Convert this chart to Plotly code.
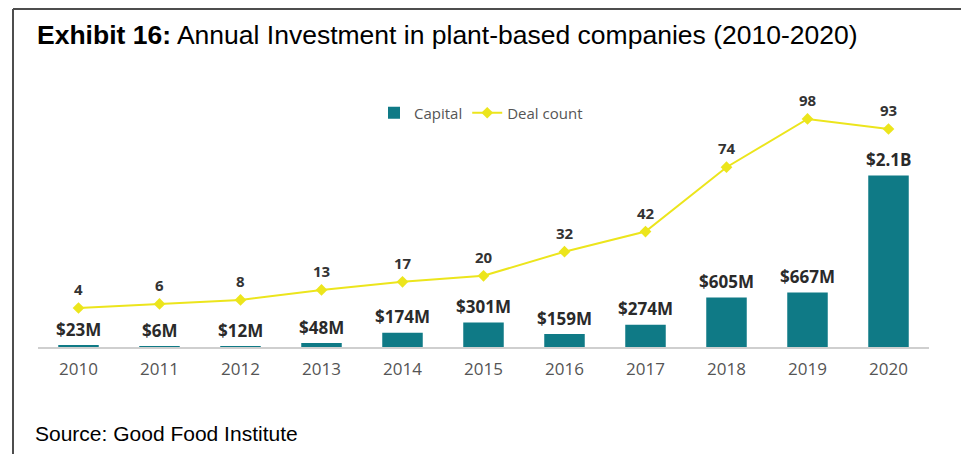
import plotly.graph_objects as go

# Annual plant-based investment data
years = ["2010", "2011", "2012", "2013", "2014", "2015", "2016", "2017", "2018", "2019", "2020"]
capital_musd = [23, 6, 12, 48, 174, 301, 159, 274, 605, 667, 2100]
capital_labels = ["$23M", "$6M", "$12M", "$48M", "$174M", "$301M", "$159M", "$274M", "$605M", "$667M", "$2.1B"]
deal_count = [4, 6, 8, 13, 17, 20, 32, 42, 74, 98, 93]

TEAL = "#0f7a86"
YELLOW = "#ece51c"
W, H = 961, 454
ML, MR, MT, MB = 38, 32, 90, 107
PW, PH = W - ML - MR, H - MT - MB


def px_x(px):
    return (px - ML) / PW


def px_y(py):
    return (H - MB - py) / PH


fig = go.Figure()

fig.add_trace(go.Bar(
    x=years, y=capital_musd, name="Capital",
    marker=dict(color=TEAL, line=dict(width=0)),
    width=0.5, yaxis="y",
))

fig.add_trace(go.Scatter(
    x=years, y=deal_count, name="Deal count", yaxis="y2",
    mode="lines+markers",
    line=dict(color=YELLOW, width=2),
    marker=dict(symbol="diamond", size=9, color=YELLOW),
))

annotations = []
# value labels above the bars (category index positions on the x axis)
for i, (v, lab) in enumerate(zip(capital_musd, capital_labels)):
    annotations.append(dict(
        x=i, y=v, xref="x", yref="y", text=lab, showarrow=False,
        yshift=16, yanchor="middle",
        font=dict(family="Open Sans", size=17, color="#2a2a2a", weight="bold"),
    ))
# deal count labels above the line markers
for i, c in enumerate(deal_count):
    annotations.append(dict(
        x=i, y=c, xref="x", yref="y2", text=str(c), showarrow=False,
        yshift=19, yanchor="middle",
        font=dict(family="Open Sans", size=15, color="#333333", weight="bold"),
    ))

# heading and source note
annotations.append(dict(
    x=px_x(35), y=px_y(35), xref="paper", yref="paper", xanchor="left", yanchor="middle",
    text="<b>Exhibit 16:</b> Annual Investment in plant-based companies (2010-2020)",
    showarrow=False, font=dict(family="Liberation Sans, Arial", size=26.5, color="#000000"),
))
annotations.append(dict(
    x=px_x(33), y=px_y(433), xref="paper", yref="paper", xanchor="left", yanchor="middle",
    text="Source: Good Food Institute",
    showarrow=False, font=dict(family="Liberation Sans, Arial", size=21, color="#000000"),
))

# frame lines along the top and left edges
shapes = [
    dict(type="line", xref="paper", yref="paper", x0=px_x(13), x1=px_x(961),
         y0=px_y(9), y1=px_y(9), line=dict(color="#4d4d4d", width=2)),
    dict(type="line", xref="paper", yref="paper", x0=px_x(13), x1=px_x(13),
         y0=px_y(9), y1=px_y(454), line=dict(color="#4d4d4d", width=2)),
]

fig.update_layout(
    width=W, height=H,
    margin=dict(l=ML, r=MR, t=MT, b=MB),
    paper_bgcolor="white", plot_bgcolor="white",
    showlegend=True,
    legend=dict(
        orientation="h", x=px_x(374), xanchor="left", y=px_y(113), yanchor="middle",
        font=dict(family="Open Sans", size=15, color="#555555"),
        bgcolor="rgba(0,0,0,0)", itemwidth=30, tracegroupgap=0,
    ),
    xaxis=dict(
        type="category", range=[-0.5, 10.5],
        showline=True, linecolor="#cfcfcf", linewidth=1.5,
        ticks="outside", ticklen=4, tickcolor="rgba(0,0,0,0)",
        ticklabelstandoff=2,
        tickfont=dict(family="Open Sans", size=17, color="#555555"),
        showgrid=False, zeroline=False,
    ),
    yaxis=dict(range=[0, PH * 12.25], visible=False, showgrid=False, zeroline=False),
    yaxis2=dict(range=[-15.4, 112.4], overlaying="y", visible=False,
                showgrid=False, zeroline=False),
    annotations=annotations,
    shapes=shapes,
)

fig.write_html("out.html")
